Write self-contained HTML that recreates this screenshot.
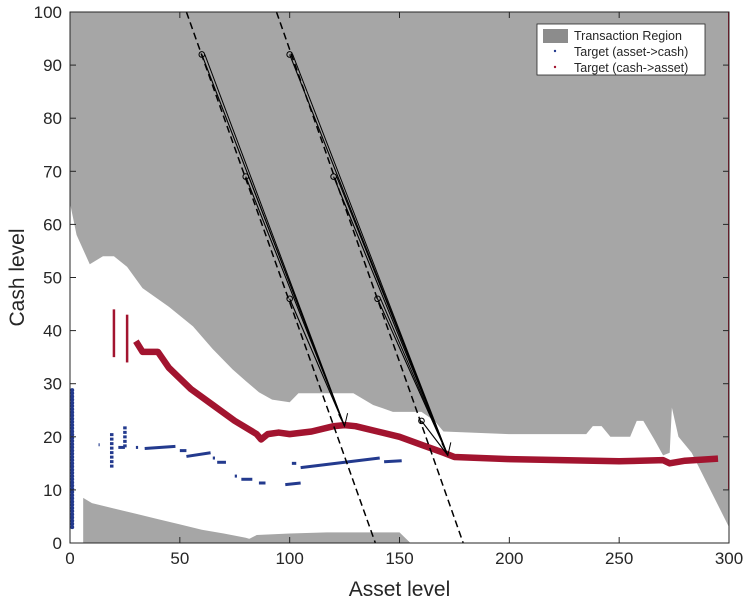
<!DOCTYPE html>
<html><head><meta charset="utf-8"><style>
body{margin:0;background:#fff;}
svg text{font-family:"Liberation Sans",sans-serif;fill:#262626;}
</style></head><body>
<svg id="chart" width="747" height="602" viewBox="0 0 747 602" xmlns="http://www.w3.org/2000/svg"></svg>
<script>
// ---- data ----
const xTicks=[0,50,100,150,200,250,300];
const yTicks=[0,10,20,30,40,50,60,70,80,90,100];
const upperEdgeX=[0,3,9,15,20,26,33,45,56,65,74,80,86,92,100,104,108,120,129,138,147,160,166,170,200,235,238,242,246,255,258,261,266,270,273,274,277,283,300];
const upperEdgeY=[64,58,52.5,54,54,52,48,44.5,40.8,36.5,32.7,30.5,28.4,27,26.5,28.2,28.2,28.2,28.2,26,24.7,24.7,23,21,20.5,20.5,22,22,20,20,23,23,19.5,16.5,17,25.5,20,17,3];
const lowerEdgeX=[6,10,20,30,40,50,60,70,80,88];
const lowerEdgeY=[8.5,7.5,6.5,5.5,4.5,3.5,2.5,1.8,1,0];
const lower2X=[78,85,100,117,150,155];
const lower2Y=[0,1.5,1.8,2,2,0];
const redX=[30,33,40,45,55,65,75,85,87,90,95,100,110,120,125,130,140,150,160,170,175,200,250,270,273,280,295];
const redY=[38,36,36,33,29,26,23,20.5,19.5,20.5,20.8,20.5,21,22,22.2,22,21,20,18.5,17,16.2,15.8,15.4,15.6,15,15.5,15.9];
const redBarsX=[20,26,300];
const redBarsLo=[35,34,10];
const redBarsHi=[44,43,100];
const blueSegX1=[13,22,30,34,50,53,65,67,75,78,86,98,101,105,143];
const blueSegX2=[13.5,25,31,48,53,64,66,71,76,83,89,105,103,141,151];
const blueSegY1=[18.5,18,18,17.8,17.4,16.3,16,15.2,12.6,12,11.3,11,15,14.2,15.3];
const blueSegY2=[18.5,18,18,18.2,17.4,17,16,15.2,12.6,12,11.3,11.3,15,16,15.5];
const blueBarsX=[19,25];
const blueBarsLo=[14.2,18];
const blueBarsHi=[20.8,22];
const blueColumnLo=3, blueColumnHi=29, blueColumnX=1;
const dashX1=[53,94], dashX2=[139,179];
const group1X=[60,80,100], group1Y=[92,69,46], tip1=[125,22];
const group2X=[100,120,140,160], group2Y=[92,69,46,23], tip2=[172,16.5];

// ---- axes ----
const L=70,R=729,T=12,B=543;
const sx=v=>L+(v/300)*(R-L);
const sy=v=>B-(v/100)*(B-T);
const svg=document.getElementById('chart');
const NS='http://www.w3.org/2000/svg';
function mk(tag,attrs,parent){const e=document.createElementNS(NS,tag);for(const k in attrs)e.setAttribute(k,attrs[k]);(parent||svg).appendChild(e);return e;}

const clip=mk('clipPath',{id:'pc'});mk('rect',{x:L,y:T,width:R-L,height:B-T},clip);
const plot=mk('g',{'clip-path':'url(#pc)'});



// upper region
let d='M'+sx(0)+','+sy(100);
upperEdgeX.forEach((x,i)=>{d+=' L'+sx(x)+','+sy(upperEdgeY[i]);});
d+=' L'+sx(300)+','+sy(100)+' Z';
let p=mk('path',{d:d,fill:'#a6a6a6'},plot);


function lowerPoly(xs,ys,name){let dd='M'+sx(xs[0])+','+sy(0);xs.forEach((x,i)=>{dd+=' L'+sx(x)+','+sy(ys[i]);});dd+=' L'+sx(xs[xs.length-1])+','+sy(0)+' Z';
const e=mk('path',{d:dd,fill:'#a6a6a6'},plot);

}
lowerPoly(lowerEdgeX,lowerEdgeY,'transaction-region-lower-left');
lowerPoly(lower2X,lower2Y,'transaction-region-lower-mid');

// blue
const blue='#233a8e';
for(let v=blueColumnLo;v<=blueColumnHi;v+=0.6){const c=mk('circle',{cx:sx(blueColumnX),cy:sy(v),r:2,fill:blue},plot);

}
blueSegX1.forEach((x,i)=>{const e=mk('line',{x1:sx(x),x2:sx(blueSegX2[i]),y1:sy(blueSegY1[i]),y2:sy(blueSegY2[i]),stroke:blue,'stroke-width':3},plot);

});
blueBarsX.forEach((x,i)=>{const e=mk('line',{x1:sx(x),x2:sx(x),y1:sy(blueBarsLo[i]),y2:sy(blueBarsHi[i]),stroke:blue,'stroke-width':3.5,'stroke-dasharray':'3 1.5'},plot);

});

// red
const red='#a2142f';
let rd='';redX.forEach((x,i)=>{rd+=(i?' L':'M')+sx(x)+','+sy(redY[i]);});
let rp=mk('path',{d:rd,fill:'none',stroke:red,'stroke-width':6.5,'stroke-linejoin':'round'},plot);


redBarsX.forEach((x,i)=>{const e=mk('line',{x1:sx(x),x2:sx(x),y1:sy(redBarsLo[i]),y2:sy(redBarsHi[i]),stroke:red,'stroke-width':i<2?2.5:2},plot);

});

// dashed
dashX1.forEach((x,i)=>{const e=mk('line',{x1:sx(x),y1:sy(100),x2:sx(dashX2[i]),y2:sy(0),stroke:'#000','stroke-width':1.5,'stroke-dasharray':'7 4'},plot);

});
function group(xs,ys,tip){xs.forEach((x,i)=>{
 const x1=sx(x),y1=sy(ys[i]),x2=sx(tip[0]),y2=sy(tip[1]);
 const l=mk('line',{x1:x1,y1:y1,x2:x2,y2:y2,stroke:'#000','stroke-width':1.1},plot);
 
 
 if(i<xs.length-1){const l2=mk('line',{x1:x1+3,y1:y1,x2:x2,y2:y2,stroke:'#000','stroke-width':1},plot);
 
 }
 const c=mk('circle',{cx:x1,cy:y1,r:2.8,fill:'none',stroke:'#000','stroke-width':1},plot);
 
 
});
 const hx=sx(tip[0]),hy=sy(tip[1]);
 const h=mk('path',{d:`M${hx-6},${hy-12} L${hx},${hy} L${hx+3},${hy-13}`,fill:'none',stroke:'#000','stroke-width':1},plot);
 
 }
group(group1X,group1Y,tip1);group(group2X,group2Y,tip2);

// axes frame & ticks
const ax=mk('rect',{x:L,y:T,width:R-L,height:B-T,fill:'none',stroke:'#262626','stroke-width':1});


xTicks.forEach(v=>{const x=sx(v);
 mk('line',{x1:x,x2:x,y1:B,y2:B-6,stroke:'#262626'});mk('line',{x1:x,x2:x,y1:T,y2:T+6,stroke:'#262626'});
 const t=mk('text',{x:x,y:B+21,'text-anchor':'middle','font-size':17});t.textContent=v;
 
 });
yTicks.forEach(v=>{const y=sy(v);
 mk('line',{x1:L,x2:L+6,y1:y,y2:y,stroke:'#262626'});mk('line',{x1:R,x2:R-6,y1:y,y2:y,stroke:'#262626'});
 const t=mk('text',{x:L-8,y:y+6,'text-anchor':'end','font-size':17});t.textContent=v;
 
 });
let xl=mk('text',{x:(L+R)/2,y:596,'text-anchor':'middle','font-size':21});xl.textContent='Asset level';


let yl=mk('text',{x:0,y:0,'text-anchor':'middle','font-size':21,transform:`translate(24,${(T+B)/2}) rotate(-90)`});yl.textContent='Cash level';



// legend
const lg=mk('g',{});


mk('rect',{x:537,y:24,width:168,height:51,fill:'#fff',stroke:'#262626','stroke-width':0.8},lg);
mk('rect',{x:543,y:29,width:25,height:14,fill:'#8c8c8c'},lg);
mk('circle',{cx:555,cy:51,r:1.2,fill:blue},lg);
mk('circle',{cx:555,cy:67,r:1.2,fill:red},lg);
[['Transaction Region',40],['Target (asset->cash)',56],['Target (cash->asset)',72]].forEach(a=>{
 const t=mk('text',{x:574,y:a[1],'font-size':12.5},lg);t.textContent=a[0];
 
 });
</script>
</body></html>
